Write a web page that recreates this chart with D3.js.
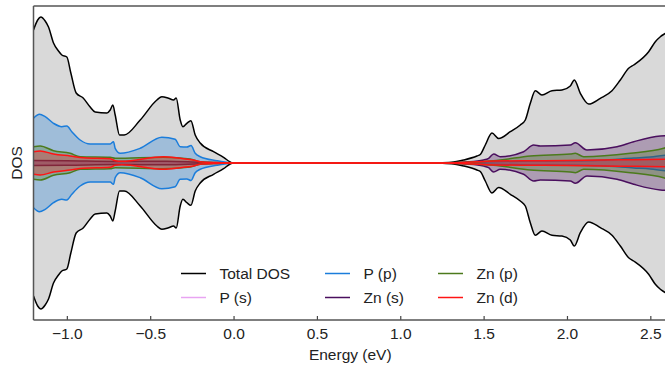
<!DOCTYPE html>
<html>
<head>
<meta charset="utf-8">
<script src="https://cdn.jsdelivr.net/npm/d3@7"></script>
<style>
  body { margin: 0; background: #fff; }
  svg { display: block; font-family: "Liberation Sans", Arial, sans-serif; }
</style>
</head>
<body>
<div id="chart"></div>
<script>
// energy (eV) vs DOS amplitude, mirrored about zero
let totalDos = [[-1.2,13.3],[-1.175,14.3],[-1.156,14.6],[-1.13,14.2],[-1.11,13.6],[-1.08,12.0],[-1.05,11.2],[-1.03,10.8],[-1.0,10.6],[-0.976,9.0],[-0.944,7.0],[-0.902,6.5],[-0.86,5.6],[-0.83,5.1],[-0.76,5.0],[-0.74,5.3],[-0.724,5.8],[-0.71,4.8],[-0.684,2.8],[-0.656,2.8],[-0.56,4.3],[-0.46,6.3],[-0.43,6.63],[-0.39,6.47],[-0.36,6.3],[-0.344,6.5],[-0.32,4.3],[-0.304,3.63],[-0.28,3.97],[-0.256,4.23],[-0.23,2.8],[-0.2,2.0],[-0.12,1.13],[-0.06,0.57],[-0.02,0.1],[0,0],[1.2,0],[1.24,0.02],[1.32,0.1],[1.38,0.3],[1.46,0.7],[1.48,0.85],[1.51,1.8],[1.55,3.0],[1.59,2.45],[1.66,3.13],[1.72,3.8],[1.75,4.3],[1.78,5.97],[1.81,7.23],[1.85,6.8],[1.91,7.23],[1.97,7.3],[2.02,7.7],[2.044,8.3],[2.08,6.97],[2.13,5.9],[2.2,6.47],[2.27,7.23],[2.32,8.3],[2.37,9.47],[2.4,9.8],[2.49,11.13],[2.53,12.13],[2.56,12.63],[2.59,12.97],[2.6,13.1]];
let pS = [[-1.2,0.15],[-1.0,0.12],[-0.7,0.08],[-0.4,0.1],[-0.2,0.05],[0,0],[1.24,0],[1.5,0.05],[1.8,0.12],[2.0,0.15],[2.2,0.22],[2.4,0.4],[2.6,0.55]];
let pP = [[-1.2,4.47],[-1.164,4.87],[-1.13,4.63],[-1.08,3.97],[-1.03,3.63],[-1.0,3.7],[-0.97,3.13],[-0.92,2.3],[-0.86,1.9],[-0.74,1.9],[-0.72,2.13],[-0.71,1.47],[-0.68,0.97],[-0.56,1.47],[-0.43,2.57],[-0.35,2.37],[-0.32,1.63],[-0.28,1.6],[-0.255,1.75],[-0.23,0.97],[-0.2,0.63],[-0.1,0.23],[-0.02,0.02],[0,0],[1.24,0],[1.4,0.05],[1.6,0.15],[1.8,0.2],[2.0,0.22],[2.2,0.28],[2.4,0.5],[2.5,0.6],[2.6,0.8]];
let znS = [[-1.2,0.25],[-1.0,0.22],[-0.7,0.15],[-0.4,0.18],[-0.2,0.08],[0,0],[1.24,0],[1.4,0.1],[1.5,0.3],[1.53,0.47],[1.56,0.9],[1.6,0.63],[1.74,1.13],[1.8,1.8],[1.84,1.7],[2.02,1.8],[2.05,2.03],[2.12,1.3],[2.3,1.63],[2.4,2.13],[2.56,2.7],[2.6,2.73]];
let znP = [[-1.2,1.63],[-1.16,1.7],[-1.08,1.23],[-0.98,0.97],[-0.92,0.63],[-0.74,0.57],[-0.71,0.47],[-0.42,0.57],[-0.26,0.4],[-0.2,0.13],[-0.1,0.04],[0,0],[1.24,0],[1.4,0.08],[1.56,0.23],[1.6,0.3],[1.78,0.7],[2.02,0.9],[2.05,0.97],[2.1,0.63],[2.38,0.97],[2.58,1.47],[2.6,1.57]];
let znD = [[-1.2,1.13],[-1.16,1.2],[-1.08,0.9],[-0.98,0.7],[-0.9,0.53],[-0.74,0.43],[-0.71,0.23],[-0.67,0.17],[-0.42,0.63],[-0.32,0.47],[-0.24,0.3],[-0.2,0.13],[-0.1,0.04],[0,0],[1.24,0],[1.4,0.08],[1.56,0.2],[1.8,0.23],[2.0,0.25],[2.2,0.3],[2.4,0.33],[2.6,0.37]];

let seriesNames = ["Total DOS", "P (s)", "P (p)", "Zn (s)", "Zn (p)", "Zn (d)"];
let seriesData = [totalDos, pS, pP, znS, znP, znD];
let seriesColors = ["#000000", "#e8a4f2", "#1b7ddb", "#4a0f5e", "#4c7a1c", "#ff1414"];
let xTicks = [-1.0, -0.5, 0.0, 0.5, 1.0, 1.5, 2.0, 2.5];

let width = 665, height = 371;
let margin = {top: 6, right: -2, bottom: 51, left: 33.5};

let svg = d3.select("#chart").append("svg")
  .attr("width", width)
  .attr("height", height);

let xScale = d3.scaleLinear().domain([-1.2, 2.6]).range([margin.left, width - margin.right]);
let yScale = d3.scaleLinear().domain([-15.7, 15.7]).range([height - margin.bottom, margin.top]);

svg.append("clipPath").attr("id", "plotClip")
  .append("rect")
  .attr("x", margin.left).attr("y", margin.top)
  .attr("width", width - margin.left).attr("height", height - margin.bottom - margin.top);

let plot = svg.append("g").attr("clip-path", "url(#plotClip)");

let area = d3.area()
  .x(d => xScale(d[0]))
  .y0(d => yScale(-d[1]))
  .y1(d => yScale(d[1]))
  .curve(d3.curveMonotoneX);
let upper = d3.line().x(d => xScale(d[0])).y(d => yScale(d[1])).curve(d3.curveMonotoneX);
let lower = d3.line().x(d => xScale(d[0])).y(d => yScale(-d[1])).curve(d3.curveMonotoneX);

seriesData.forEach((data, i) => {
  plot.append("path")
    .attr("d", area(data))
    .attr("fill", i === 0 ? "#d9d9d9" : seriesColors[i])
    .attr("fill-opacity", i === 0 ? 1 : 0.3);
  [upper, lower].forEach(gen => {
    plot.append("path")
      .attr("d", gen(data))
      .attr("fill", "none")
      .attr("stroke", seriesColors[i])
      .attr("stroke-width", 1.5)
      .attr("stroke-linejoin", "round");
  });
});

// bottom axis, ticks pointing inward
let xAxis = svg.append("g")
  .attr("transform", "translate(0," + (height - margin.bottom) + ")")
  .call(d3.axisBottom(xScale).tickValues(xTicks).tickFormat(d3.format(".1f")).tickSizeInner(-4).tickSizeOuter(0));
xAxis.select(".domain").remove();
xAxis.selectAll(".tick line").attr("stroke", "#444").attr("stroke-width", 1.2);
xAxis.selectAll(".tick text")
  .attr("y", 8)
  .attr("dy", "0.71em")
  .attr("font-size", "15.5px")
  .attr("font-family", "Liberation Sans, Arial, sans-serif")
  .attr("fill", "#222");

// spines
let spineColor = "#555";
svg.append("line").attr("x1", margin.left).attr("x2", margin.left)
  .attr("y1", margin.top).attr("y2", height - margin.bottom)
  .attr("stroke", spineColor).attr("stroke-width", 1.5);
svg.append("line").attr("x1", margin.left).attr("x2", width)
  .attr("y1", margin.top).attr("y2", margin.top)
  .attr("stroke", spineColor).attr("stroke-width", 1.5);
svg.append("line").attr("x1", margin.left).attr("x2", width)
  .attr("y1", height - margin.bottom).attr("y2", height - margin.bottom)
  .attr("stroke", spineColor).attr("stroke-width", 1.5);

// axis labels
svg.append("text")
  .attr("x", xScale(0.7))
  .attr("y", 359.5)
  .attr("text-anchor", "middle")
  .attr("font-size", "15.5px")
  .attr("fill", "#222")
  .text("Energy (eV)");

svg.append("text")
  .attr("transform", "translate(21.5," + yScale(0) + ") rotate(-90)")
  .attr("text-anchor", "middle")
  .attr("font-size", "15.5px")
  .attr("fill", "#222")
  .text("DOS");

// legend, 3 columns x 2 rows
let legendCols = [181, 325, 438];
let legendRows = [273.5, 297.5];
seriesNames.forEach((name, i) => {
  let col = Math.floor(i / 2), row = i % 2;
  let lx = legendCols[col], ly = legendRows[row];
  svg.append("line")
    .attr("x1", lx).attr("x2", lx + 25)
    .attr("y1", ly).attr("y2", ly)
    .attr("stroke", seriesColors[i])
    .attr("stroke-width", 1.5);
  svg.append("text")
    .attr("x", lx + 38.5)
    .attr("y", ly)
    .attr("dy", "0.36em")
    .attr("font-size", "15.5px")
    .attr("fill", "#222")
    .text(name);
});
</script>
</body>
</html>
